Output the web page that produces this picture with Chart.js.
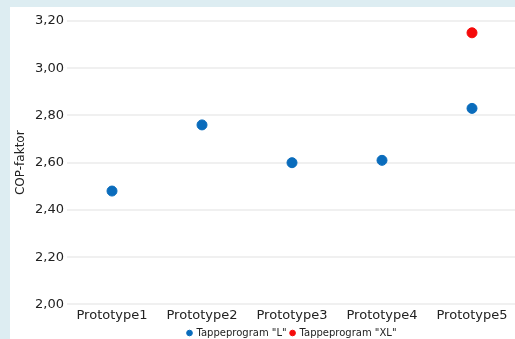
<!DOCTYPE html>
<html>
<head>
<meta charset="utf-8">
<script src="https://cdn.jsdelivr.net/npm/chart.js@4"></script>
<style>
  html, body { margin: 0; padding: 0; width: 515px; height: 339px; overflow: hidden; background: #ddedf2; }
  #panel { position: absolute; left: 10px; top: 7px; width: 505px; height: 332px; background: #fff; }
  #wrap { position: absolute; left: 0; top: 0; width: 513px; height: 341px; }
</style>
</head>
<body>
<div id="panel"><div id="wrap"><canvas id="chart"></canvas></div></div>
<script>
const categories = ['Prototype1', 'Prototype2', 'Prototype3', 'Prototype4', 'Prototype5'];
const seriesL = [2.48, 2.76, 2.60, 2.61, 2.83];
const seriesXL = [null, null, null, null, 3.15];
const seriesNames = ['Tappeprogram "L"', 'Tappeprogram "XL"'];
const yTicks = [2.0, 2.2, 2.4, 2.6, 2.8, 3.0, 3.2];

const fontFamily = '"DejaVu Sans", sans-serif';

new Chart(document.getElementById('chart'), {
    type: 'line',
    data: {
        labels: categories,
        datasets: [
            {
                label: seriesNames[0],
                data: seriesL,
                showLine: false,
                pointRadius: 5,
                pointHoverRadius: 5,
                backgroundColor: '#0a6cbc',
                borderColor: '#0a6cbc',
                pointStyle: 'circle'
            },
            {
                label: seriesNames[1],
                data: seriesXL,
                showLine: false,
                pointRadius: 5,
                pointHoverRadius: 5,
                backgroundColor: '#f50a0a',
                borderColor: '#f50a0a',
                pointStyle: 'circle'
            }
        ]
    },
    options: {
        responsive: true,
        maintainAspectRatio: false,
        animation: false,
        layout: { padding: { top: 14, right: 0, left: 0, bottom: 0 } },
        plugins: {
            tooltip: { enabled: false },
            legend: {
                position: 'bottom',
                fullSize: false,
                labels: {
                    usePointStyle: true,
                    boxWidth: 4,
                    boxHeight: 4,
                    padding: 4,
                    color: '#222',
                    font: { family: fontFamily, size: 10 }
                }
            }
        },
        scales: {
            x: {
                offset: true,
                grid: { display: false, drawTicks: false },
                border: { display: false },
                afterFit: function(scale) { scale.height = scale.height - 2; },
                ticks: {
                    color: '#222',
                    padding: 3,
                    font: { family: fontFamily, size: 13 }
                }
            },
            y: {
                min: yTicks[0],
                max: yTicks[yTicks.length - 1],
                afterBuildTicks: function(scale) {
                    scale.ticks = yTicks.map(v => ({ value: v }));
                },
                afterFit: function(scale) { scale.width = 57; },
                grid: { color: '#f0f0f0', lineWidth: 2, drawTicks: false },
                border: { display: false },
                title: {
                    display: true,
                    text: 'COP-faktor',
                    color: '#222',
                    padding: { top: 4, bottom: 0 },
                    font: { family: fontFamily, size: 12 }
                },
                ticks: {
                    color: '#222',
                    padding: 3,
                    font: { family: fontFamily, size: 13 },
                    callback: function(v) { return Number(v).toFixed(2).replace('.', ','); }
                }
            }
        }
    }
});
</script>
</body>
</html>
